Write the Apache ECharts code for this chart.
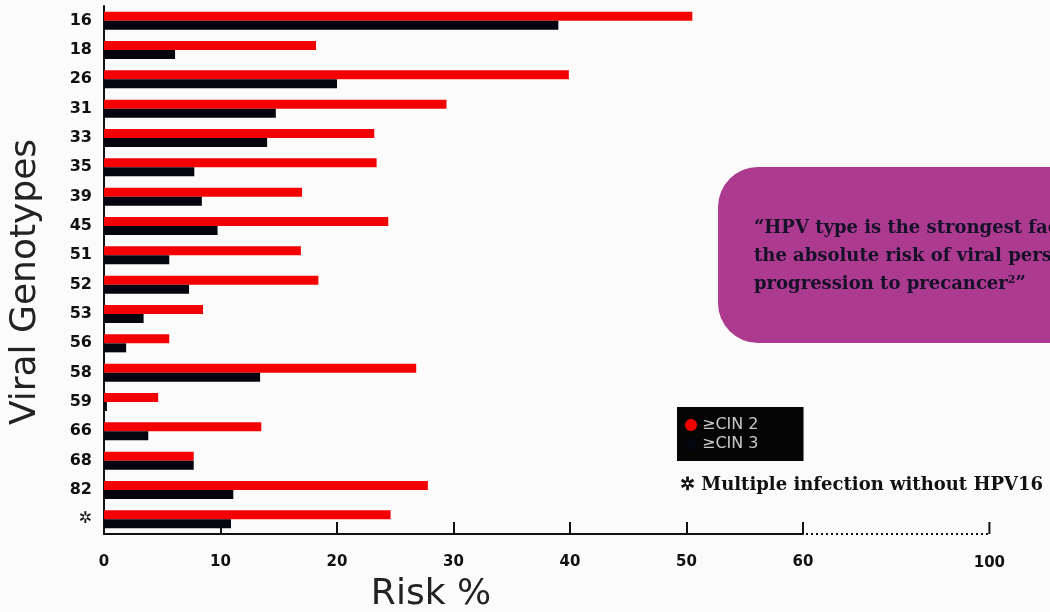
<!DOCTYPE html>
<html>
<head>
<meta charset="utf-8">
<script src="https://cdn.jsdelivr.net/npm/echarts@6/dist/echarts.min.js"></script>
<style>
html,body{margin:0;padding:0;background:#fbfbfb;}
#chart{width:1050px;height:612px;}
</style>
</head>
<body>
<div id="chart"></div>
<script>
var genotypes = ['16','18','26','31','33','35','39','45','51','52','53','56','58','59','66','68','82','\u2732'];
var cin2 = [50.5, 18.2, 39.9, 29.4, 23.2, 23.4, 17.0, 24.4, 16.9, 18.4, 8.5, 5.6, 26.8, 4.65, 13.5, 7.7, 27.8, 24.6];
var cin3 = [39.0, 6.1, 20.0, 14.75, 14.0, 7.75, 8.4, 9.75, 5.6, 7.3, 3.4, 1.9, 13.4, 0.25, 3.8, 7.7, 11.1, 10.9];
var xTicks = [0, 10, 20, 30, 40, 50, 60];
var extraTickLabel = '100';
var seriesNames = ['\u2265CIN 2', '\u2265CIN 3'];

var chart = echarts.init(document.getElementById('chart'));
chart.setOption({
  backgroundColor: '#fbfbfb',
  animation: false,
  grid: {left: 104, right: 247, top: 6, bottom: 78, containLabel: false, outerBoundsMode: 'none'},
  legend: {
    orient: 'vertical', left: 677, top: 407,
    backgroundColor: '#050505', borderRadius: 0,
    padding: [10, 45, 9, 8], itemGap: 3,
    itemWidth: 12, itemHeight: 12, icon: 'circle',
    textStyle: {color: '#c8c8c8', fontSize: 16, fontFamily: 'DejaVu Sans'},
    data: seriesNames
  },
  xAxis: {
    type: 'value', min: 0, max: 60, interval: 10,
    axisLine: {show: true, lineStyle: {color: '#111', width: 2}},
    axisTick: {show: true, inside: true, length: 12, lineStyle: {color: '#111', width: 2}},
    splitLine: {show: false},
    axisLabel: {margin: 21, color: '#111', fontWeight: 'bold', fontSize: 15, fontFamily: 'DejaVu Sans'},
    name: 'Risk %', nameLocation: 'middle', nameGap: 43,
    nameTextStyle: {fontSize: 36, color: '#222', fontFamily: 'DejaVu Sans', fontWeight: 'normal', padding: [0, 45, 0, 0]}
  },
  yAxis: {
    type: 'category', inverse: true, data: genotypes,
    axisLine: {show: true, lineStyle: {color: '#111', width: 2}},
    axisTick: {show: false},
    axisLabel: {margin: 12, color: '#111', fontWeight: 'bold', fontSize: 16, fontFamily: 'DejaVu Sans'},
    name: 'Viral Genotypes', nameLocation: 'middle', nameGap: 60, nameRotate: 90,
    nameTextStyle: {fontSize: 36, color: '#222', fontFamily: 'DejaVu Sans', fontWeight: 'normal', padding: [0, 24, 0, 0]}
  },
  series: [
    {name: seriesNames[0], type: 'bar', data: cin2, barWidth: 9, barGap: '0%', itemStyle: {color: '#f50000'}},
    {name: seriesNames[1], type: 'bar', data: cin3, barWidth: 9, barGap: '0%', itemStyle: {color: '#050510'}}
  ]
});

// dotted axis extension beyond 60 (broken scale) to the "100" tick
var p0 = chart.convertToPixel({xAxisIndex: 0}, 0);
var p60 = chart.convertToPixel({xAxisIndex: 0}, xTicks[xTicks.length - 1]);
var unit = (p60 - p0) / 60;
var p100 = p60 + 16 * unit;
var gridRect = chart.getModel().getComponent('grid', 0).coordinateSystem.getRect();
var axisY = gridRect.y + gridRect.height;

chart.setOption({
  graphic: [
    {type: 'line', shape: {x1: p60 + 3, y1: axisY, x2: p100, y2: axisY},
     style: {stroke: '#111', lineWidth: 2, lineDash: [2, 3]}},
    {type: 'line', shape: {x1: p100, y1: axisY, x2: p100, y2: axisY - 12},
     style: {stroke: '#111', lineWidth: 2}},
    {type: 'text', x: p100, y: axisY + 29, style: {text: extraTickLabel, fill: '#111', font: 'bold 15px "DejaVu Sans"', textAlign: 'center', textVerticalAlign: 'middle'}},
    {type: 'rect', shape: {x: 718, y: 167, width: 420, height: 176, r: 40},
     style: {fill: '#ac3a8e'}},
    {type: 'text', x: 754, y: 228, style: {text: '\u201cHPV type is the strongest factor determining', fill: '#16102a', font: 'bold 18px "DejaVu Serif"', textVerticalAlign: 'middle'}},
    {type: 'text', x: 754, y: 256, style: {text: 'the absolute risk of viral persistence and', fill: '#16102a', font: 'bold 18px "DejaVu Serif"', textVerticalAlign: 'middle'}},
    {type: 'text', x: 754, y: 284, style: {rich: {a: {fill: '#16102a', font: 'bold 18px "DejaVu Serif"'}, s: {fill: '#16102a', font: 'bold 11px "DejaVu Serif"', verticalAlign: 'top', padding: [0,0,8,0]}}, text: '{a|progression to precancer}{s|2}{a|\u201d}', textVerticalAlign: 'middle'}},
    {type: 'text', x: 680, y: 485, style: {text: '\u2732 Multiple infection without HPV16', fill: '#111', font: 'bold 18px "DejaVu Serif"', textVerticalAlign: 'middle'}}
  ]
});
</script>
</body>
</html>
